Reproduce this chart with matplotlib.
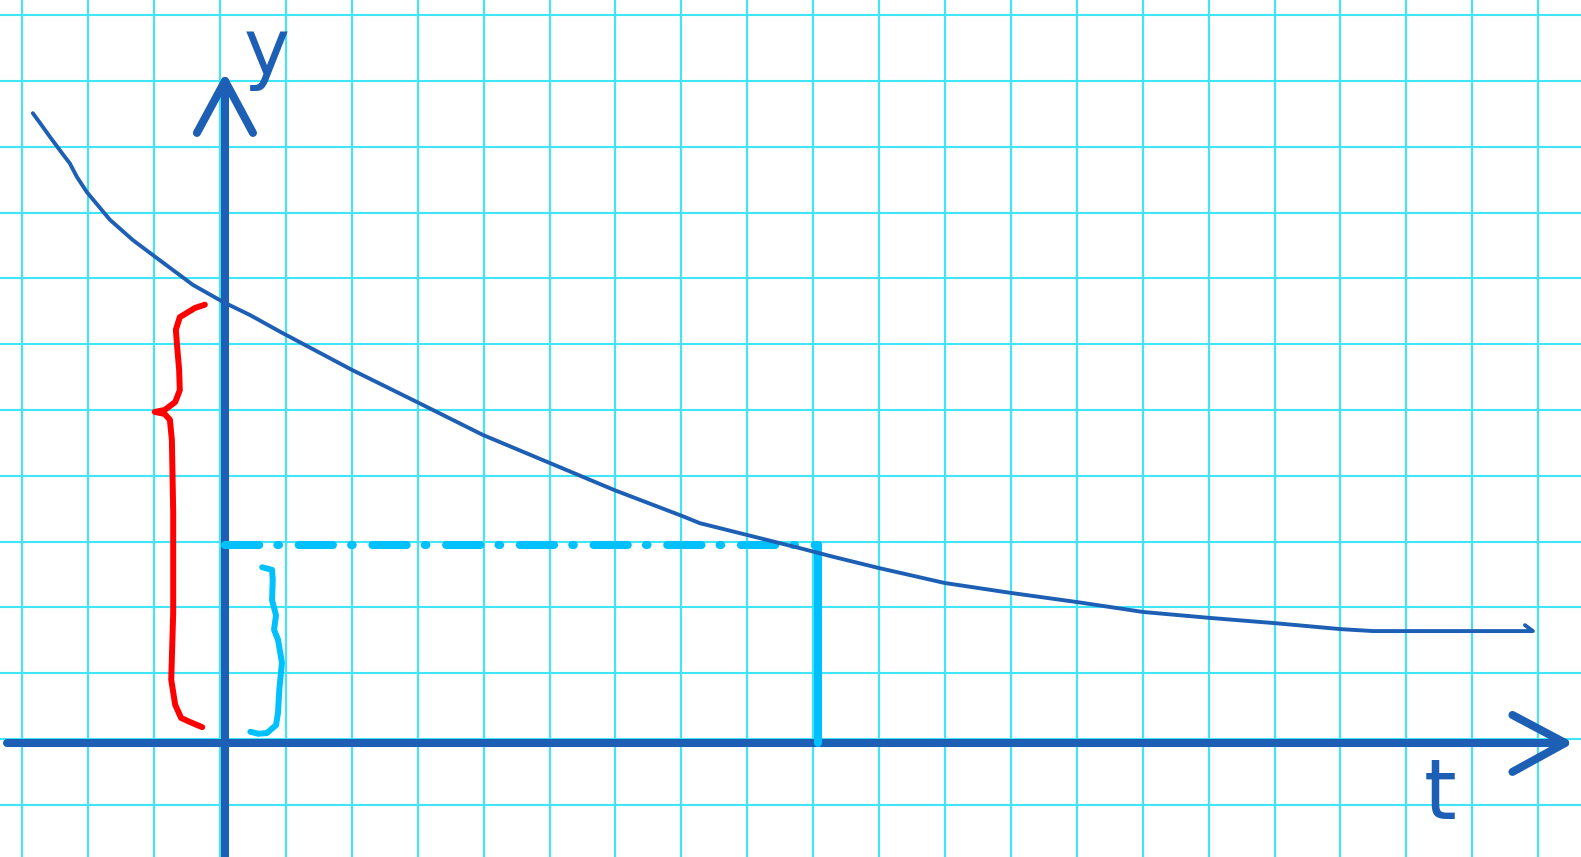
import matplotlib
matplotlib.use('Agg')
import matplotlib.pyplot as plt
import numpy as np

# 曲线 y(t) 的读数（单位：方格）
t_curve = [-2.84, -2.73, -2.58, -2.38, -2.28, -2.17, -2.02, -1.82, -1.67, -1.32,
           -0.96, -0.41, 0.05, 0.46, 0.91, 2.00, 3.01, 3.99, 4.99, 5.99,
           7.01, 7.28, 8.80, 9.30, 9.99, 11.00, 12.00, 13.01, 14.01, 15.02,
           16.01, 17.00, 17.50, 19.92, 19.80]
y_curve = [9.51, 9.36, 9.15, 8.88, 8.75, 8.54, 8.31, 8.07, 7.89, 7.58,
           7.31, 6.90, 6.64, 6.44, 6.19, 5.61, 5.11, 4.62, 4.20, 3.78,
           3.39, 3.28, 2.90, 2.77, 2.60, 2.37, 2.22, 2.08, 1.93, 1.84,
           1.76, 1.67, 1.64, 1.64, 1.73]

# 标记点
t_mark = 9.07
y_mark = 2.95

# 坐标轴位置
x_axis_v = -0.06
y_axis_u = 0.076
x_axis_start = -3.23
x_axis_tip = 20.41
y_axis_tip = 10.0

# 箭头
y_arrow_u = [-0.35, 0.076, 0.50]
y_arrow_v = [9.21, 10.0, 9.21]
x_arrow_u = [19.61, 20.41, 19.61]
x_arrow_v = [0.365, -0.06, -0.50]

# 红色大括号
red_u = [-0.23, -0.38, -0.61, -0.67, -0.65, -0.62, -0.61, -0.68, -0.84, -0.99,
         -0.84, -0.76, -0.73, -0.71, -0.71, -0.74, -0.68, -0.59, -0.46, -0.27]
red_v = [6.60, 6.55, 6.41, 6.22, 5.96, 5.61, 5.30, 5.12, 5.00, 4.97,
         4.94, 4.85, 4.54, 3.44, 1.92, 0.90, 0.52, 0.32, 0.26, 0.18]

# 青色小括号
cyan_u = [0.64, 0.79, 0.80, 0.79, 0.85, 0.82, 0.88, 0.94, 0.90, 0.88,
          0.85, 0.71, 0.58, 0.46]
cyan_v = [2.61, 2.57, 2.42, 2.11, 1.88, 1.66, 1.51, 1.16, 0.75, 0.40,
          0.21, 0.09, 0.08, 0.11]

BLUE = '#1c5fb4'
CYAN = '#00c0ff'
GRID = '#40e6f8'
RED = '#ff0000'

fig = plt.figure(figsize=(15.81, 8.57), dpi=100)
ax = fig.add_axes([0, 0, 1, 1])
ax.set_xlim(-3.338, 20.65)
ax.set_ylim(-1.793, 11.23)

ax.set_xticks(np.arange(-3, 21))
ax.set_yticks(np.arange(-1, 12))
ax.tick_params(length=0, labelbottom=False, labelleft=False)
ax.grid(True, color=GRID, linewidth=1.5)
for s in ax.spines.values():
    s.set_visible(False)
ax.set_axisbelow(True)

# 坐标轴
ax.plot([x_axis_start, x_axis_tip], [x_axis_v, x_axis_v], color=BLUE, lw=5.8,
        solid_capstyle='round')
ax.plot([y_axis_u, y_axis_u], [-2, y_axis_tip], color=BLUE, lw=5.8,
        solid_capstyle='round')
ax.plot(x_arrow_u, x_arrow_v, color=BLUE, lw=5.8, solid_capstyle='round',
        solid_joinstyle='round')
ax.plot(y_arrow_u, y_arrow_v, color=BLUE, lw=5.8, solid_capstyle='round',
        solid_joinstyle='round')

# 点划线与竖线
ax.plot([y_axis_u, t_mark], [y_mark, y_mark], color=CYAN, lw=5.8,
        linestyle=(0, (4.25, 2.25, 0.2, 2.45)), dash_capstyle='round')
ax.plot([t_mark, t_mark], [x_axis_v, y_mark], color=CYAN, lw=5.8,
        solid_capstyle='round')

# 曲线
ax.plot(t_curve, y_curve, color=BLUE, lw=2.8, solid_capstyle='round',
        solid_joinstyle='round')

# 括号
ax.plot(red_u, red_v, color=RED, lw=4.3, solid_capstyle='round',
        solid_joinstyle='round')
ax.plot(cyan_u, cyan_v, color=CYAN, lw=4.3, solid_capstyle='round',
        solid_joinstyle='round')

# 标签
ax.text(0.71, 10.42, 'y', color=BLUE, fontsize=56, ha='center', va='center',
        family='DejaVu Sans')
ax.text(18.51, -0.86, 't', color=BLUE, fontsize=60, ha='center', va='center',
        family='DejaVu Sans')

fig.savefig('out.png', dpi=100)
